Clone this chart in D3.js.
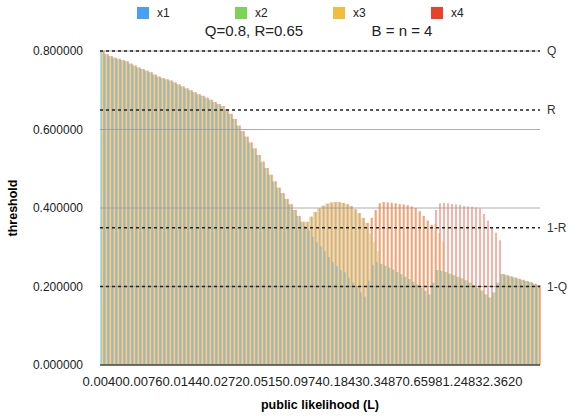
<!DOCTYPE html>
<html>
<head>
<meta charset="utf-8">
<script src="https://cdn.jsdelivr.net/npm/d3@7"></script>
<style>
  body { margin: 0; background: #fff; }
  text { font-family: "Liberation Sans", Arial, Helvetica, sans-serif; }
</style>
</head>
<body>
<svg id="chart" width="580" height="416"></svg>
<script>
const width = 580;
const height = 416;

// series values, one entry per public likelihood step (110 steps)
const x1 = [
  0.800,0.792,0.787,0.783,0.780,0.777,0.774,0.768,0.763,0.758,
  0.754,0.750,0.746,0.740,0.735,0.731,0.728,0.725,0.720,0.715,
  0.710,0.705,0.700,0.695,0.690,0.686,0.681,0.676,0.670,0.665,
  0.660,0.652,0.640,0.627,0.610,0.596,0.582,0.567,0.552,0.535,
  0.518,0.502,0.485,0.468,0.452,0.438,0.423,0.410,0.395,0.380,
  0.365,0.355,0.343,0.327,0.313,0.302,0.290,0.275,0.262,0.252,
  0.242,0.236,0.222,0.210,0.198,0.185,0.174,0.215,0.255,0.262,
  0.258,0.253,0.248,0.243,0.237,0.231,0.225,0.219,0.212,0.205,
  0.197,0.189,0.180,0.210,0.242,0.240,0.237,0.233,0.229,0.225,
  0.221,0.216,0.210,0.204,0.197,0.190,0.180,0.172,0.185,0.210,
  0.232,0.229,0.226,0.223,0.220,0.217,0.214,0.211,0.207,0.204
];
const x2 = [
  0.800,0.792,0.787,0.783,0.780,0.777,0.774,0.768,0.763,0.758,
  0.754,0.750,0.746,0.740,0.735,0.731,0.728,0.725,0.720,0.715,
  0.710,0.705,0.700,0.695,0.690,0.686,0.681,0.676,0.670,0.665,
  0.660,0.652,0.640,0.627,0.610,0.596,0.582,0.567,0.552,0.535,
  0.518,0.502,0.485,0.468,0.452,0.438,0.423,0.410,0.395,0.380,
  0.365,0.365,0.378,0.390,0.399,0.406,0.411,0.414,0.415,0.415,
  0.413,0.410,0.405,0.397,0.387,0.375,0.362,0.336,0.313,0.290,
  0.258,0.253,0.248,0.243,0.237,0.231,0.225,0.219,0.212,0.205,
  0.197,0.189,0.180,0.210,0.242,0.240,0.237,0.233,0.229,0.225,
  0.221,0.216,0.210,0.204,0.197,0.190,0.180,0.172,0.185,0.210,
  0.232,0.229,0.226,0.223,0.220,0.217,0.214,0.211,0.207,0.204
];
const x3 = [
  0.800,0.792,0.787,0.783,0.780,0.777,0.774,0.768,0.763,0.758,
  0.754,0.750,0.746,0.740,0.735,0.731,0.728,0.725,0.720,0.715,
  0.710,0.705,0.700,0.695,0.690,0.686,0.681,0.676,0.670,0.665,
  0.660,0.652,0.640,0.627,0.610,0.596,0.582,0.567,0.552,0.535,
  0.518,0.502,0.485,0.468,0.452,0.438,0.423,0.410,0.395,0.380,
  0.365,0.365,0.378,0.390,0.399,0.406,0.411,0.414,0.415,0.415,
  0.413,0.410,0.405,0.397,0.387,0.375,0.362,0.375,0.395,0.412,
  0.415,0.414,0.413,0.412,0.410,0.409,0.407,0.404,0.400,0.392,
  0.380,0.368,0.357,0.360,0.336,0.313,0.237,0.233,0.229,0.225,
  0.221,0.216,0.210,0.204,0.197,0.190,0.180,0.172,0.185,0.210,
  0.232,0.229,0.226,0.223,0.220,0.217,0.214,0.211,0.207,0.204
];
const x4 = [
  0.800,0.792,0.787,0.783,0.780,0.777,0.774,0.768,0.763,0.758,
  0.754,0.750,0.746,0.740,0.735,0.731,0.728,0.725,0.720,0.715,
  0.710,0.705,0.700,0.695,0.690,0.686,0.681,0.676,0.670,0.665,
  0.660,0.652,0.640,0.627,0.610,0.596,0.582,0.567,0.552,0.535,
  0.518,0.502,0.485,0.468,0.452,0.438,0.423,0.410,0.395,0.380,
  0.365,0.365,0.378,0.390,0.399,0.406,0.411,0.414,0.415,0.415,
  0.413,0.410,0.405,0.397,0.387,0.375,0.362,0.375,0.395,0.412,
  0.415,0.414,0.413,0.412,0.410,0.409,0.407,0.404,0.400,0.392,
  0.380,0.368,0.357,0.395,0.412,0.413,0.412,0.410,0.409,0.408,
  0.405,0.404,0.403,0.401,0.399,0.385,0.368,0.352,0.337,0.318,
  0.232,0.229,0.226,0.223,0.220,0.217,0.214,0.211,0.207,0.204
];

const seriesNames = ["x1", "x2", "x3", "x4"];
const seriesColors = ["#4a9ff2", "#7bd455", "#f0bd3d", "#e8412c"];

// every 10th step carries a label
const tickLabels = ["0.0040","0.0076","0.0144","0.0272","0.0515","0.0974","0.1843","0.3487","0.6598","1.2483","2.3620"];
const yTicks = [0, 0.2, 0.4, 0.6, 0.8];

const refNames = ["Q", "R", "1-R", "1-Q"];
const refValues = [0.8, 0.65, 0.35, 0.2];

const series = [x1, x2, x3, x4];
const steps = d3.range(x1.length);

const svg = d3.select("#chart")
  .attr("viewBox", [0, 0, width, height]);

// half-pixel offset so the thin bars blend like the original
const x = d3.scaleBand()
  .domain(steps)
  .range([100.5, 540.5]);

const xSub = d3.scaleBand()
  .domain(seriesNames)
  .range([0, x.bandwidth()]);

const y = d3.scaleLinear()
  .domain([0, 0.8])
  .range([365, 51]);

// bars
svg.append("g")
  .selectAll("g")
  .data(steps)
  .join("g")
    .attr("transform", i => `translate(${x(i)},0)`)
  .selectAll("rect")
  .data(i => seriesNames.map((s, k) => ({s, k, v: series[k][i]})))
  .join("rect")
    .attr("x", d => xSub(d.s))
    .attr("width", xSub.bandwidth())
    .attr("y", d => y(d.v))
    .attr("height", d => y(0) - y(d.v))
    .attr("fill", d => seriesColors[d.k])
    .attr("fill-opacity", 0.8);

// gridlines
svg.append("g")
  .selectAll("line")
  .data(yTicks.slice(1))
  .join("line")
    .attr("x1", 100)
    .attr("x2", 540)
    .attr("y1", d => y(d))
    .attr("y2", d => y(d))
    .attr("stroke", "#999")
    .attr("stroke-opacity", 0.8)
    .attr("stroke-width", 1.2);

// reference lines Q, R, 1-R, 1-Q
const refs = svg.append("g");
refs.selectAll("line")
  .data(refValues)
  .join("line")
    .attr("x1", 100)
    .attr("x2", 540)
    .attr("y1", d => y(d))
    .attr("y2", d => y(d))
    .attr("stroke", "#222")
    .attr("stroke-width", 1.5)
    .attr("stroke-dasharray", "3,3");
refs.selectAll("text")
  .data(refValues)
  .join("text")
    .attr("x", 547)
    .attr("y", d => y(d))
    .attr("dy", "0.35em")
    .attr("font-size", 12)
    .attr("fill", "#333")
    .text((d, i) => refNames[i]);

// x axis baseline + labels
svg.append("line")
  .attr("x1", 100).attr("x2", 540)
  .attr("y1", y(0)).attr("y2", y(0))
  .attr("stroke", "#444")
  .attr("stroke-width", 1.5);

svg.append("g")
  .selectAll("text")
  .data(tickLabels)
  .join("text")
    .attr("x", (d, i) => x(i * 10) + x.bandwidth() / 2)
    .attr("y", 386)
    .attr("text-anchor", "middle")
    .attr("font-size", 13)
    .attr("fill", "#222")
    .text(d => d);

// y axis labels
svg.append("g")
  .selectAll("text")
  .data(yTicks)
  .join("text")
    .attr("x", 83)
    .attr("y", d => y(d))
    .attr("dy", "0.35em")
    .attr("text-anchor", "end")
    .attr("font-size", 12)
    .attr("fill", "#222")
    .text(d => d3.format(".6f")(d));

// axis titles
svg.append("text")
  .attr("transform", "translate(17,208) rotate(-90)")
  .attr("text-anchor", "middle")
  .attr("font-size", 12.5)
  .attr("font-weight", "bold")
  .text("threshold");

svg.append("text")
  .attr("x", 320)
  .attr("y", 409)
  .attr("text-anchor", "middle")
  .attr("font-size", 12.5)
  .attr("font-weight", "bold")
  .text("public likelihood (L)");

// legend
const legend = svg.append("g")
  .selectAll("g")
  .data(seriesNames)
  .join("g")
    .attr("transform", (d, i) => `translate(${137 + i * 98},7)`);
legend.append("rect")
  .attr("width", 12)
  .attr("height", 12)
  .attr("fill", (d, i) => seriesColors[i]);
legend.append("text")
  .attr("x", 20)
  .attr("y", 10)
  .attr("font-size", 12)
  .attr("fill", "#222")
  .text(d => d);

// subtitle
svg.append("text")
  .attr("x", 254).attr("y", 36)
  .attr("text-anchor", "middle")
  .attr("font-size", 15)
  .attr("fill", "#222")
  .text("Q=0.8, R=0.65");
svg.append("text")
  .attr("x", 402).attr("y", 36)
  .attr("text-anchor", "middle")
  .attr("font-size", 15)
  .attr("fill", "#222")
  .text("B = n = 4");
</script>
</body>
</html>
